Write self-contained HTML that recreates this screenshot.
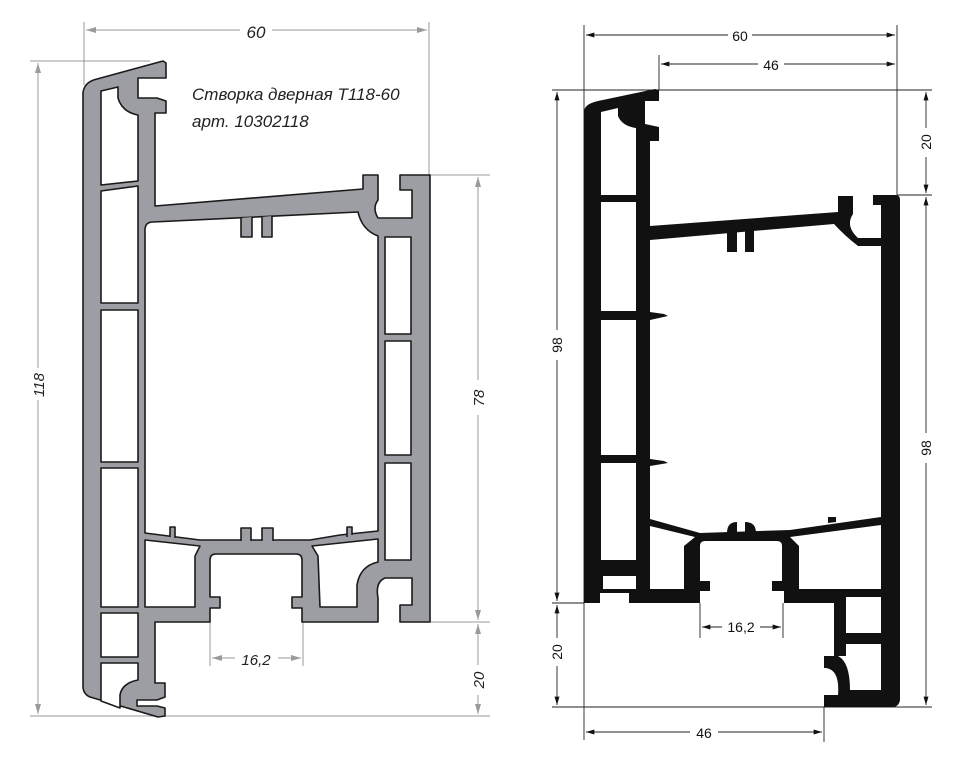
<!DOCTYPE html>
<html><head><meta charset="utf-8"><style>
html,body{margin:0;padding:0;background:#fff;}
svg{display:block;}
.dim{stroke:#9a9a9a;stroke-width:1;fill:none;}
.dimk{stroke:#222;stroke-width:0.9;fill:none;}
.tg{font-family:"Liberation Sans",sans-serif;font-style:italic;fill:#222;}
.tk{font-family:"Liberation Sans",sans-serif;fill:#111;}
</style></head><body>
<svg width="966" height="773" viewBox="0 0 966 773" xmlns="http://www.w3.org/2000/svg">
<defs>
<marker id="ag" viewBox="0 0 10 6" refX="10" refY="3" markerWidth="10" markerHeight="6" orient="auto-start-reverse" markerUnits="userSpaceOnUse"><path d="M0,0 L10,3 L0,6 Z" fill="#9a9a9a"/></marker>
<marker id="ak" viewBox="0 0 10 6" refX="10" refY="3" markerWidth="9" markerHeight="5" orient="auto-start-reverse" markerUnits="userSpaceOnUse"><path d="M0,0 L10,3 L0,6 Z" fill="#111"/></marker>
</defs>

<!-- LEFT DRAWING dimensions -->
<g class="dim">
<line x1="84" y1="22" x2="84" y2="85"/>
<line x1="429" y1="22" x2="429" y2="175"/>
<line x1="86" y1="30" x2="240" y2="30" marker-start="url(#ag)"/>
<line x1="272" y1="30" x2="427" y2="30" marker-end="url(#ag)"/>
<line x1="30" y1="61" x2="150" y2="61"/>
<line x1="30" y1="716" x2="490" y2="716"/>
<line x1="38" y1="63" x2="38" y2="368" marker-start="url(#ag)"/>
<line x1="38" y1="400" x2="38" y2="714" marker-end="url(#ag)"/>
<line x1="430" y1="175" x2="490" y2="175"/>
<line x1="430" y1="622" x2="490" y2="622"/>
<line x1="478" y1="177" x2="478" y2="380" marker-start="url(#ag)"/>
<line x1="478" y1="415" x2="478" y2="620" marker-end="url(#ag)"/>
<line x1="478" y1="624" x2="478" y2="665" marker-start="url(#ag)"/>
<line x1="478" y1="695" x2="478" y2="714" marker-end="url(#ag)"/>
<line x1="210" y1="622" x2="210" y2="666"/>
<line x1="303" y1="622" x2="303" y2="666"/>
<line x1="212" y1="658" x2="235" y2="658" marker-start="url(#ag)"/>
<line x1="278" y1="658" x2="301" y2="658" marker-end="url(#ag)"/>
</g>
<text class="tg" x="256" y="38" font-size="17" text-anchor="middle">60</text>
<text class="tg" x="0" y="0" font-size="15" text-anchor="middle" transform="translate(44,385) rotate(-90)">118</text>
<text class="tg" x="0" y="0" font-size="15" text-anchor="middle" transform="translate(484,398) rotate(-90)">78</text>
<text class="tg" x="0" y="0" font-size="15" text-anchor="middle" transform="translate(484,680) rotate(-90)">20</text>
<text class="tg" x="256" y="665" font-size="15" text-anchor="middle">16,2</text>
<text class="tg" x="192" y="100" font-size="17">Створка дверная Т118-60</text>
<text class="tg" x="192" y="127" font-size="17">арт. 10302118</text>
<text class="tg" x="260" y="377" font-size="15" text-anchor="middle" style="fill:#888">армирование</text>
<text class="tg" x="260" y="400" font-size="15" text-anchor="middle" style="fill:#888">50x40</text>

<!-- LEFT PROFILE -->
<g stroke="#1a1a1a" stroke-width="1.6" stroke-linejoin="round">
<path fill="#9d9ea3" d="M83,93 Q84,82 97,79 L163,61 L166,63 L166,78 L138,78 L138,98 L157,98 L166,101 L166,113 L155,113 L155,206 L363,189 L363,175 L378,175 L378,200 Q372,208 378,218 L412,218 L412,190 L400,190 L400,175 L430,175 L430,622 L400,622 L400,605 L412,605 L412,578 L385,578 Q375,582 378,598 L378,622 L302,622 L302,608 L292,608 L292,597 L302,597 L302,560 Q302,554 296,554 L216,554 Q210,554 210,560 L210,597 L220,597 L220,608 L210,608 L210,622 L155,622 L155,683 L165,683 L165,697 L157,700 L137,700 L137,706 L157,706 L165,708 L165,716 L158,717 L90,697 Q83,694 83,686 Z"/>
<path fill="#fff" d="M101,91 L118,87 L118,98 Q122,112 138,115 L138,181 L101,185 Z"/>
<path fill="#fff" d="M101,191 L138,186 L138,303 L101,303 Z"/>
<rect fill="#fff" x="101" y="310" width="37" height="152"/>
<rect fill="#fff" x="101" y="468" width="37" height="139"/>
<rect fill="#fff" x="101" y="613" width="37" height="44"/>
<path fill="#fff" d="M101,663 L138,663 L138,680 Q122,683 120,695 L120,708 L101,701 Z"/>
<path fill="#fff" d="M145,230 Q145,222 153,222 L358,212 Q362,230 378,236 L378,531 L340,535 L310,540 L200,540 L145,533 Z"/>
<rect fill="#fff" x="385" y="237" width="26" height="97"/>
<rect fill="#fff" x="385" y="341" width="26" height="114"/>
<rect fill="#fff" x="385" y="463" width="26" height="97"/>
<path fill="#fff" d="M145,540 L200,546 L195,556 L195,607 L145,607 Z"/>
<path fill="#fff" d="M312,546 L378,539 L378,562 Q360,566 357,585 L357,607 L320,607 L318,556 Z"/>
<path fill="#9d9ea3" d="M241,218 L241,237 L252,237 L252,217 M262,217 L262,237 L272,237 L272,216"/>
<path fill="#9d9ea3" d="M170,537 L170,527 L175,527 L175,538 M241,541 L241,528 L251,528 L251,541 M262,541 L262,528 L273,528 L273,541 M347,537 L347,527 L352,527 L352,535"/>
</g>

<!-- RIGHT DRAWING dimensions -->
<g class="dimk">
<line x1="584" y1="25" x2="584" y2="740"/>
<line x1="897" y1="25" x2="897" y2="195"/>
<line x1="586" y1="35" x2="728" y2="35" marker-start="url(#ak)"/>
<line x1="752" y1="35" x2="895" y2="35" marker-end="url(#ak)"/>
<line x1="659" y1="55" x2="659" y2="90"/>
<line x1="661" y1="64" x2="758" y2="64" marker-start="url(#ak)"/>
<line x1="784" y1="64" x2="895" y2="64" marker-end="url(#ak)"/>
<line x1="552" y1="90" x2="932" y2="90"/>
<line x1="897" y1="195" x2="932" y2="195"/>
<line x1="552" y1="603" x2="584" y2="603"/>
<line x1="552" y1="707" x2="932" y2="707"/>
<line x1="557" y1="92" x2="557" y2="330" marker-start="url(#ak)"/>
<line x1="557" y1="360" x2="557" y2="601" marker-end="url(#ak)"/>
<line x1="557" y1="605" x2="557" y2="638" marker-start="url(#ak)"/>
<line x1="557" y1="666" x2="557" y2="705" marker-end="url(#ak)"/>
<line x1="926" y1="92" x2="926" y2="128" marker-start="url(#ak)"/>
<line x1="926" y1="157" x2="926" y2="193" marker-end="url(#ak)"/>
<line x1="926" y1="197" x2="926" y2="433" marker-start="url(#ak)"/>
<line x1="926" y1="463" x2="926" y2="705" marker-end="url(#ak)"/>
<line x1="824" y1="707" x2="824" y2="742"/>
<line x1="586" y1="732" x2="690" y2="732" marker-start="url(#ak)"/>
<line x1="718" y1="732" x2="822" y2="732" marker-end="url(#ak)"/>
<line x1="700" y1="603" x2="700" y2="638"/>
<line x1="783" y1="603" x2="783" y2="638"/>
<line x1="702" y1="627" x2="722" y2="627" marker-start="url(#ak)"/>
<line x1="760" y1="627" x2="781" y2="627" marker-end="url(#ak)"/>
</g>
<text class="tk" x="740" y="41" font-size="14" text-anchor="middle">60</text>
<text class="tk" x="771" y="70" font-size="14" text-anchor="middle">46</text>
<text class="tk" x="704" y="738" font-size="14" text-anchor="middle">46</text>
<text class="tk" x="741" y="632" font-size="14" text-anchor="middle">16,2</text>
<text class="tk" x="0" y="0" font-size="14" text-anchor="middle" transform="translate(562,345) rotate(-90)">98</text>
<text class="tk" x="0" y="0" font-size="14" text-anchor="middle" transform="translate(562,652) rotate(-90)">20</text>
<text class="tk" x="0" y="0" font-size="14" text-anchor="middle" transform="translate(931,142) rotate(-90)">20</text>
<text class="tk" x="0" y="0" font-size="14" text-anchor="middle" transform="translate(931,448) rotate(-90)">98</text>

<!-- RIGHT PROFILE -->
<g>
<path fill="#111" d="M584,112 Q584,104 598,101 L655,89 L659,90 L659,101 L645,101 L645,124 L659,127 L659,141 L650,141 L650,226 L838,212 L838,196 L853,196 L853,214 Q845,226 858,238 L881,238 L881,205 L873,205 L873,195 L896,195 Q900,195 900,200 L900,700 Q899,707 892,707 L824,707 L824,695 L838,695 Q840,670 826,668 L824,668 L824,656 L834,656 L834,603 L784,603 L784,591 L772,591 L772,581 L782,581 L782,546 Q782,541 777,541 L705,541 Q700,541 700,546 L700,581 L710,581 L710,591 L700,591 L700,603 L629,603 L629,593 L600,593 L600,603 L584,603 Z"/>
<path fill="#fff" d="M601,112 L618,108 L618,116 Q622,126 636,128 L636,195 L601,195 Z"/>
<rect fill="#fff" x="601" y="202" width="35" height="109"/>
<rect fill="#fff" x="601" y="320" width="35" height="135"/>
<rect fill="#fff" x="601" y="463" width="35" height="97"/>
<rect fill="#fff" x="603" y="576" width="33" height="13"/>
<path fill="#fff" d="M650,240 L834,224 Q845,236 858,246 L881,246 L881,517 L790,530 L700,533 L650,519 Z"/>
<path fill="#fff" d="M650,526 L695,537 L684,546 L684,589 L650,589 Z"/>
<path fill="#fff" d="M790,537 L881,525 L881,589 L799,589 L799,546 Z"/>
<rect fill="#fff" x="846" y="597" width="35" height="36"/>
<path fill="#fff" d="M846,644 L881,644 L881,690 L850,690 Q850,662 838,656 L846,656 Z"/>
<path fill="#111" d="M727,230 L727,252 L737,252 L737,230 Z M745,229 L745,252 L754,252 L754,229 Z"/>
<path fill="#111" d="M650,312 L664,314 L668,316 L650,320 Z M650,459 L664,461 L668,463 L650,466 Z"/>
<path fill="#111" d="M727,533 Q727,522 737,522 L737,533 Z M745,533 L745,522 Q756,522 756,533 Z M828,523 L828,517 L836,517 L836,522 Z"/>
</g>
</svg>
</body></html>
